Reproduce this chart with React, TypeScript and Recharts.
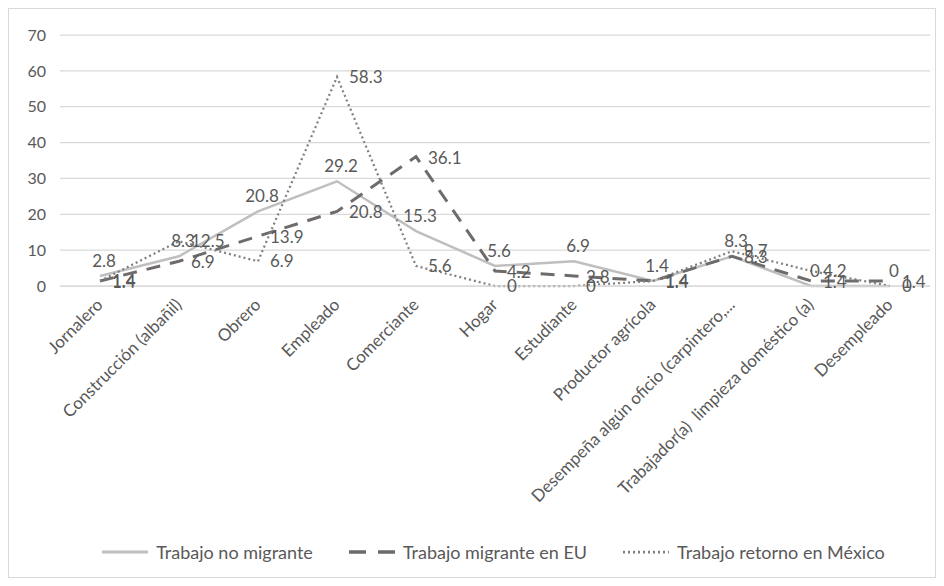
import React from 'react';
import { LineChart, Line, XAxis, YAxis, CartesianGrid, Legend, LabelList } from 'recharts';

const categories = [
  'Jornalero',
  'Construcción (albañil)',
  'Obrero',
  'Empleado',
  'Comerciante',
  'Hogar',
  'Estudiante',
  'Productor agrícola',
  'Desempeña algún oficio (carpintero,...',
  'Trabajador(a)  limpieza doméstico (a)',
  'Desempleado',
];

const noMigrante = [2.8, 8.3, 20.8, 29.2, 15.3, 5.6, 6.9, 1.4, 8.3, 0, 0];
const migranteEU = [1.4, 6.9, 13.9, 20.8, 36.1, 4.2, 2.8, 1.4, 8.3, 1.4, 1.4];
const retornoMexico = [1.4, 12.5, 6.9, 58.3, 5.6, 0, 0, 1.4, 9.7, 4.2, 0];

const yTicks = [0, 10, 20, 30, 40, 50, 60, 70];

const data = categories.map((name, i) => ({
  name,
  noMigrante: noMigrante[i],
  migranteEU: migranteEU[i],
  retornoMexico: retornoMexico[i],
}));

const FONT = 'Lato, "Open Sans", sans-serif';
const TEXT = '#595959';

const series = [
  { key: 'noMigrante', label: 'Trabajo no migrante', color: '#bfbfbf', width: 2.5, dash: undefined, icon: undefined, dx: 4, dy: -9, anchor: 'middle' },
  { key: 'migranteEU', label: 'Trabajo migrante en EU', color: '#6f6b6b', width: 3, dash: '14 10', icon: '17 12', dx: 12, dy: 7, anchor: 'start' },
  { key: 'retornoMexico', label: 'Trabajo retorno en México', color: '#808080', width: 2.25, dash: '2 3', icon: '2 3', dx: 12, dy: 6, anchor: 'start' },
];

const AxisTick = (props: any) => {
  const { x, y, payload } = props;
  return (
    <g transform={`translate(${x + 1},${y + 9})`}>
      <text
        x={0}
        y={0}
        dy={4}
        textAnchor="end"
        fill={TEXT}
        fontSize={17}
        fontFamily={FONT}
        transform="rotate(-45)"
        style={{ whiteSpace: 'pre' }}
      >
        {payload.value}
      </text>
    </g>
  );
};

const makeLabel = (dx: number, dy: number, anchor: string) => (props: any) => {
  const { x, y, value } = props;
  return (
    <text x={x + dx} y={y + dy} textAnchor={anchor} fill={TEXT} fontSize={17} fontFamily={FONT}>
      {value}
    </text>
  );
};

const LegendContent = () => (
  <div style={{ display: 'flex', justifyContent: 'center', gap: 36, paddingLeft: 48, fontFamily: FONT, fontSize: 18, color: TEXT }}>
    {series.map((s) => (
      <div key={s.key} style={{ display: 'flex', alignItems: 'center' }}>
        <svg width={46} height={10} style={{ marginRight: 8 }}>
          <line x1={0} y1={5} x2={46} y2={5} stroke={s.color} strokeWidth={s.width + 0.5} strokeDasharray={s.icon} />
        </svg>
        <span>{s.label}</span>
      </div>
    ))}
  </div>
);

export default function App() {
  return (
    <div style={{ width: 926, height: 568, border: '1px solid #d9d9d9', background: '#fff' }}>
      <LineChart width={926} height={568} data={data} margin={{ top: 26, right: 5, left: 0, bottom: 6 }}>
        <CartesianGrid vertical={false} stroke="#d9d9d9" strokeWidth={1.25} />
        <XAxis
          dataKey="name"
          interval={0}
          padding={{ left: 40, right: 40 }}
          tick={<AxisTick />}
          tickLine={false}
          axisLine={{ stroke: '#d9d9d9', strokeWidth: 1.25 }}
          height={255}
        />
        <YAxis
          domain={[0, 70]}
          ticks={yTicks}
          width={51}
          tickLine={false}
          axisLine={false}
          tickSize={0}
          tickMargin={14}
          tick={{ fill: TEXT, fontSize: 16, fontFamily: FONT }}
        />
        {series.map((s) => (
          <Line
            key={s.key}
            type="linear"
            dataKey={s.key}
            name={s.label}
            stroke={s.color}
            strokeWidth={s.width}
            strokeDasharray={s.dash}
            dot={false}
            activeDot={false}
            isAnimationActive={false}
          >
            <LabelList dataKey={s.key} content={makeLabel(s.dx, s.dy, s.anchor)} />
          </Line>
        ))}
        <Legend verticalAlign="bottom" height={30} content={<LegendContent />} />
      </LineChart>
    </div>
  );
}
